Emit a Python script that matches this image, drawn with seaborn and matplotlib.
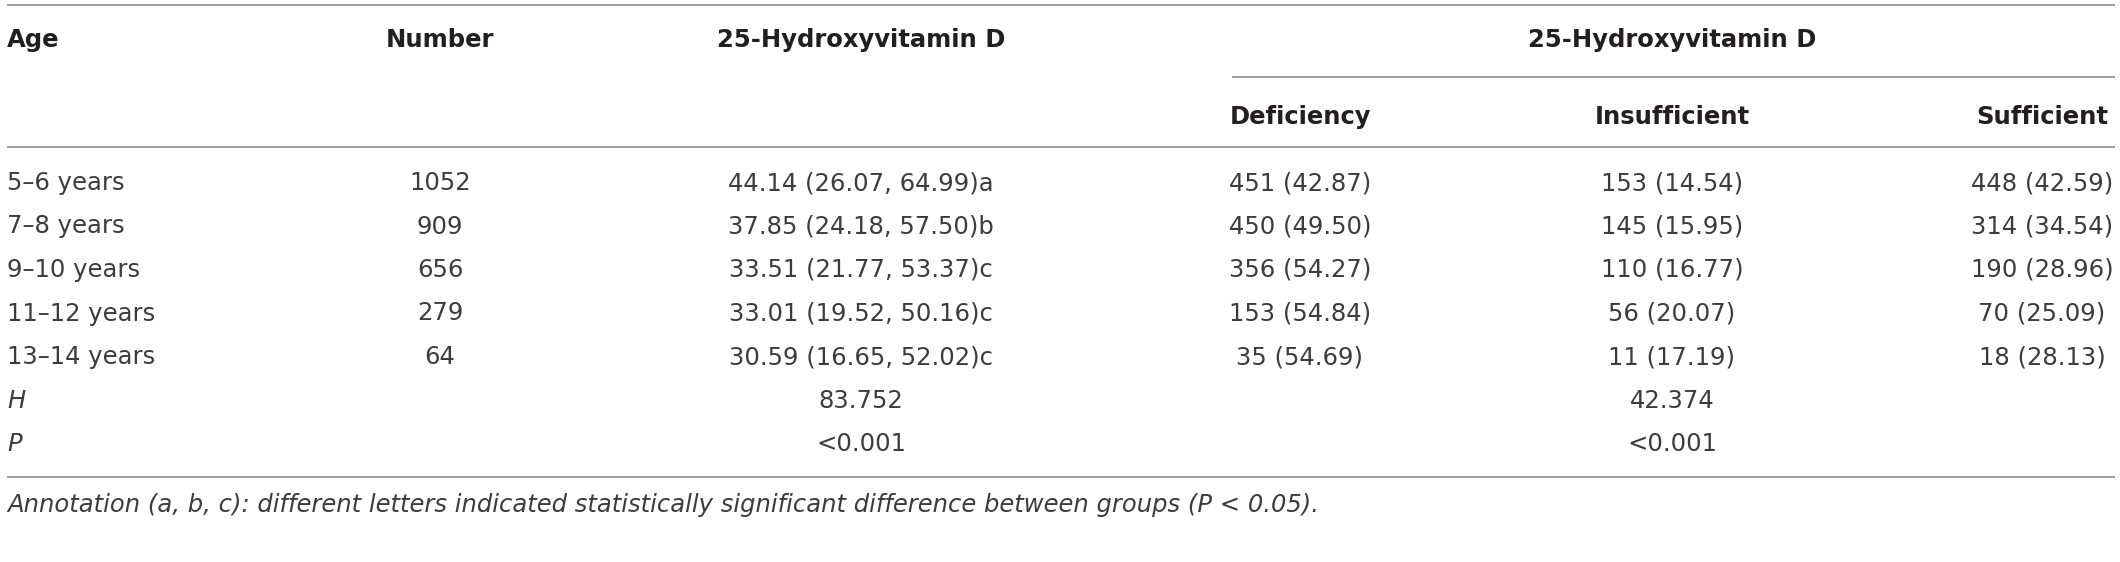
import matplotlib
matplotlib.use("Agg")
import matplotlib.pyplot as plt
import seaborn as sns
import pandas as pd

# DATA
age_groups = ["5–6 years", "7–8 years", "9–10 years", "11–12 years", "13–14 years"]
numbers = [1052, 909, 656, 279, 64]
vitd_median = ["44.14 (26.07, 64.99)a", "37.85 (24.18, 57.50)b", "33.51 (21.77, 53.37)c",
               "33.01 (19.52, 50.16)c", "30.59 (16.65, 52.02)c"]
deficiency = ["451 (42.87)", "450 (49.50)", "356 (54.27)", "153 (54.84)", "35 (54.69)"]
insufficient = ["153 (14.54)", "145 (15.95)", "110 (16.77)", "56 (20.07)", "11 (17.19)"]
sufficient = ["448 (42.59)", "314 (34.54)", "190 (28.96)", "70 (25.09)", "18 (28.13)"]
stat_labels = ["H", "P"]
stat_vitd = ["83.752", "<0.001"]
stat_status = ["42.374", "<0.001"]
note = ("Annotation (a, b, c): different letters indicated statistically significant "
        "difference between groups (P < 0.05).")

df = pd.DataFrame({
    "Age": age_groups,
    "Number": numbers,
    "25-Hydroxyvitamin D": vitd_median,
    "Deficiency": deficiency,
    "Insufficient": insufficient,
    "Sufficient": sufficient,
})

# CONFIG
sns.set_style("white")
plt.rcParams["font.family"] = ["DejaVu Sans"]

W, H = 2120, 562
fig = plt.figure(figsize=(W / 100, H / 100), dpi=100)
ax = fig.add_axes([0, 0, 1, 1])
ax.set_xlim(0, W)
ax.set_ylim(H, 0)
ax.axis("off")

# layout (pixels)
x_left, x_right = 7, 2115
col_x = {"Number": 440, "25-Hydroxyvitamin D": 861, "Deficiency": 1300,
         "Insufficient": 1672, "Sufficient": 2042}
row0, row_step = 190, 43.5
line_kw = dict(color="#808080", lw=1.1)
head_kw = dict(fontsize=17.5, fontweight="bold", color="#231f20", va="baseline")
body_kw = dict(fontsize=17.5, color="#3c3c3c", va="baseline")

# rules
ax.hlines(5, x_left, x_right, **line_kw)
ax.hlines(77, 1232, x_right, **line_kw)
ax.hlines(147, x_left, x_right, **line_kw)
ax.hlines(477, x_left, x_right, **line_kw)

# header
ax.text(x_left, 47, "Age", ha="left", **head_kw)
ax.text(col_x["Number"], 47, "Number", ha="center", **head_kw)
ax.text(col_x["25-Hydroxyvitamin D"], 47, "25-Hydroxyvitamin D", ha="center", **head_kw)
ax.text(col_x["Insufficient"], 47, "25-Hydroxyvitamin D", ha="center", **head_kw)
for c in ["Deficiency", "Insufficient", "Sufficient"]:
    ax.text(col_x[c], 124, c, ha="center", **head_kw)

# body
for i, row in df.iterrows():
    y = row0 + i * row_step
    ax.text(x_left, y, row["Age"], ha="left", **body_kw)
    for c in col_x:
        ax.text(col_x[c], y, str(row[c]), ha="center", **body_kw)

n = len(df)
for j, lab in enumerate(stat_labels):
    y = row0 + (n + j) * row_step
    ax.text(x_left, y, lab, ha="left", style="italic", **body_kw)
    ax.text(col_x["25-Hydroxyvitamin D"], y, stat_vitd[j], ha="center", **body_kw)
    ax.text(col_x["Insufficient"], y, stat_status[j], ha="center", **body_kw)

# footnote
ax.text(x_left, 512, note, ha="left", style="italic", **body_kw)

fig.savefig("out.png", dpi=100)
